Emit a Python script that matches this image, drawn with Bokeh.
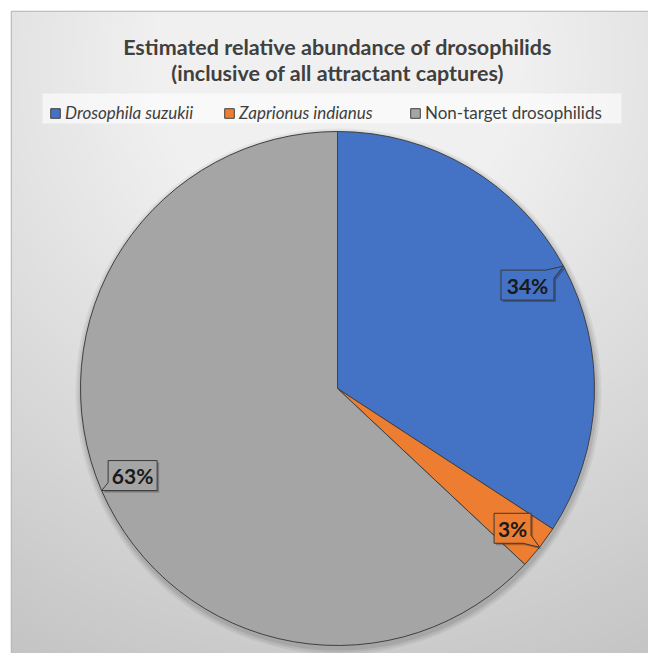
import numpy as np
from bokeh.plotting import figure
from bokeh.models import Range1d, Label, Legend, LegendItem, ColumnDataSource, BoxAnnotation
from bokeh.core.properties import value
from bokeh.embed import file_html
from bokeh.resources import INLINE

# ---- data ----
categories = ["Drosophila suzukii", "Zaprionus indianus", "Non-target drosophilids"]
shares = [34.2, 2.8, 63.0]
pct_labels = ["34%", "3%", "63%"]
colors = ["#4472C4", "#ED7D31", "#A5A5A5"]
title_lines = ["Estimated relative abundance of drosophilids",
               "(inclusive of all attractant captures)"]

# ---- canvas ----
W, H = 648, 653
L, T = 11, 11
FONT = "Lato"


def sy(y):
    return H - y  # screen y -> data y


p = figure(width=W, height=H, output_backend="svg", toolbar_location=None,
           x_range=Range1d(L, W), y_range=Range1d(0, H - T),
           min_border_left=L, min_border_top=T, min_border_right=0, min_border_bottom=0,
           border_fill_color="white", outline_line_color="#b4b4b4", outline_line_width=1.5)
p.axis.visible = False
p.grid.visible = False
p.background_fill_color = "#dcdcdc"

# background radial gradient (decoration)
nx, ny = 160, 160
gx = np.linspace(L, W, nx)
gy = np.linspace(0, H - T, ny)
GX, GY = np.meshgrid(gx, gy)
dist = np.hypot(GX - 337, sy(GY) - 60)
g = np.clip(0xE6 + (300 - dist) * 32 / 360, 0xC4, 0xF0).astype(np.uint32)
img = (np.uint32(255) << 24) | (g << 16) | (g << 8) | g
p.image_rgba(image=[img], x=L, y=0, dw=W - L, dh=H - T)

# ---- pie ----
cx, cy, R = 337, sy(388), 257
frac = np.array(shares) / np.sum(shares)
cum = np.concatenate([[0.0], np.cumsum(frac)])
start = np.pi / 2 - 2 * np.pi * cum[:-1]
end = np.pi / 2 - 2 * np.pi * cum[1:]

for dr, a in [(6, 0.05), (4, 0.06), (2, 0.08)]:
    p.circle(x=cx + 1, y=cy - 3, radius=R + dr, fill_color="black", fill_alpha=a, line_color=None)

src = ColumnDataSource(dict(start=start, end=end, color=colors, cat=categories))
p.wedge(x=cx, y=cy, radius=R, start_angle="start", end_angle="end", direction="clock",
        fill_color="color", line_color="#404040", line_width=1, source=src)

# ---- callout data labels ----
mid = cum[:-1] + frac / 2
ang = np.pi / 2 - 2 * np.pi * mid
tips_x = cx + R * np.cos(ang)
tips_y = cy + R * np.sin(ang)
offsets = [(-36, 19), (-27, -19), (31, -15)]   # screen px (x right, y down)
box_w = [53, 37, 49]
box_h = 30


def callout(bx, by, w, h, tx, ty, d=8):
    l, r, b, t = bx - w / 2, bx + w / 2, by - h / 2, by + h / 2
    corners = [(l, b), (r, b), (r, t), (l, t)]
    i = int(np.argmin([(x - tx) ** 2 + (y - ty) ** 2 for x, y in corners]))
    pts = []
    for k, (x, y) in enumerate(corners):
        if k == i:
            for j, (qx, qy) in enumerate([corners[k - 1], corners[(k + 1) % 4]]):
                ln = np.hypot(qx - x, qy - y)
                pts.append((x + (qx - x) * d / ln, y + (qy - y) * d / ln))
                if j == 0:
                    pts.append((tx, ty))
        else:
            pts.append((x, y))
    return [q[0] for q in pts], [q[1] for q in pts]


bxs, bys, pxs, pys, sxs, sys_ = [], [], [], [], [], []
for k in range(len(shares)):
    bx = tips_x[k] + offsets[k][0]
    by = tips_y[k] - offsets[k][1]
    bxs.append(bx)
    bys.append(by)
    xs_, ys_ = callout(bx, by, box_w[k], box_h, tips_x[k], tips_y[k])
    pxs.append(xs_)
    pys.append(ys_)
    sxs.append([v + 2 for v in xs_])
    sys_.append([v - 2 for v in ys_])

p.patches(xs=sxs, ys=sys_, fill_color="black", fill_alpha=0.25, line_color=None)
p.patches(xs=pxs, ys=pys, fill_color=colors, line_color="#3a3a3a", line_width=1)
p.text(x=bxs, y=bys, text=pct_labels, text_font=value(FONT), text_font_style="bold",
       text_font_size="21px", text_align="center", text_baseline="middle", text_color="#1a1a1a")

# ---- title ----
for txt, ty in zip(title_lines, [46, 72]):
    p.add_layout(Label(x=337, y=sy(ty), text=txt, text_font=FONT, text_font_style="bold",
                       text_font_size="21.5px", text_color="#404040", text_align="center",
                       text_baseline="middle"))

# ---- legend ----
p.add_layout(BoxAnnotation(left=42, right=621, bottom=sy(123), top=sy(93),
                           fill_color="white", fill_alpha=0.6, line_color=None))
leg_r = [p.rect(x=[np.nan], y=[np.nan], width=1, height=1, fill_color=c,
                line_color="#404040", line_width=1) for c in colors]
common = dict(orientation="horizontal", label_text_font=FONT, label_text_font_size="17px",
              label_text_color="#404040", glyph_width=12, glyph_height=12, label_standoff=4,
              spacing=30, padding=5, margin=0, label_height=20, background_fill_alpha=0,
              border_line_color=None)
leg1 = Legend(items=[LegendItem(label=categories[0], renderers=[leg_r[0]]),
                     LegendItem(label=categories[1], renderers=[leg_r[1]])],
              location=(38, 530), label_text_font_style="italic", **common)
leg2 = Legend(items=[LegendItem(label=categories[2], renderers=[leg_r[2]])],
              location=(398, 530), label_text_font_style="normal", **common)
p.add_layout(leg1)
p.add_layout(leg2)

open("out.html", "w").write(file_html(p, INLINE))
